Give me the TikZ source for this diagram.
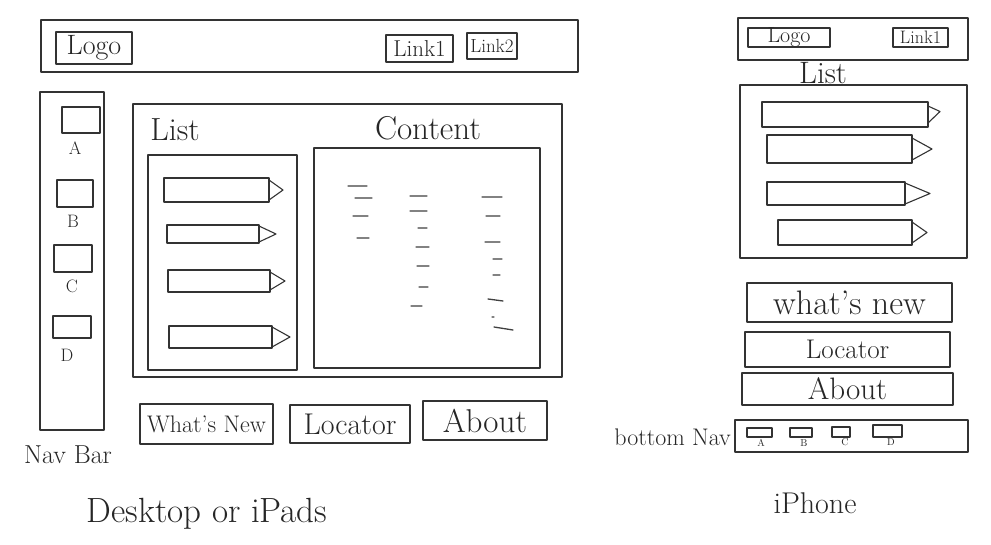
\documentclass[tikz,border=0pt]{standalone}
\usetikzlibrary{fit}

\tikzset{
  sketch/.style={draw=black!80, line width=1.1pt, line join=round},
  wbox/.style={sketch, inner sep=0pt, outer sep=0pt},
  hand/.style={font=\fontsize{#1}{#1}\selectfont, text=black!85, inner sep=0pt},
  scrib/.style={draw=black!75, line width=1.3pt, line cap=round},
}

\begin{document}
\begin{tikzpicture}[x=1pt, y=-1pt]
  \useasboundingbox[fill=white] (0,0) rectangle (991,544);
  % desktop / iPad page
  \node[wbox, fit={(41,20) (578,72)}] (dhead) {};
  \node[wbox, fit={(56,32) (132,64)}] (dlogo) {};
  \node[wbox, fit={(386,35) (453,62)}] (dlinka) {};
  \node[wbox, fit={(467,33) (517,59)}] (dlinkb) {};
  \node[hand=28] (dlogotxt) at (dlogo) {Logo};
  \node[hand=23] (dlinkatxt) at (dlinka) {Link1};
  \node[hand=19] (dlinkbtxt) at (dlinkb) {Link2};
  \node[wbox, fit={(40,92) (104,430)}] (dnav) {};
  \node[wbox, fit={(62,107) (100,133)}] (dnava) {};
  \node[wbox, fit={(57,180) (93,207)}] (dnavb) {};
  \node[wbox, fit={(54,245) (92,272)}] (dnavc) {};
  \node[wbox, fit={(53,316) (91,338)}] (dnavd) {};
  \node[hand=18] (dla) at (75,148) {A};
  \node[hand=18] (dlb) at (73,221) {B};
  \node[hand=18] (dlc) at (72,286) {C};
  \node[hand=18] (dld) at (67,355) {D};
  \node[hand=26] (dnavtxt) at (68,455) {Nav Bar};
  \node[wbox, fit={(133,104) (562,377)}] (dmain) {};
  \node[hand=32] (dlisttxt) at (175,130) {List};
  \node[hand=33] (dconttxt) at (428,128) {Content};
  \node[wbox, fit={(148,155) (297,370)}] (dlist) {};
  \node[wbox, fit={(314,148) (540,368)}] (dcont) {};
  % list items
  \node[wbox, fit={(164,178) (269,202)}] (ditema) {};
  \node[wbox, fit={(167,225) (259,243)}] (ditemb) {};
  \node[wbox, fit={(168,270) (270,292)}] (ditemc) {};
  \node[wbox, fit={(169,326) (272,348)}] (ditemd) {};
  \draw[sketch] ([yshift=-2pt]ditema.north east) -- ([xshift=14pt]ditema.east) -- ([yshift=2pt]ditema.south east);
  \draw[sketch] ([yshift=-1pt]ditemb.north east) -- ([xshift=17pt]ditemb.east) -- ([yshift=1pt]ditemb.south east);
  \draw[sketch] ([yshift=-2pt]ditemc.north east) -- ([xshift=15pt]ditemc.east) -- ([yshift=2pt]ditemc.south east);
  \draw[sketch] ([yshift=-1pt]ditemd.north east) -- ([xshift=18pt]ditemd.east) -- ([yshift=1pt]ditemd.south east);
  % content lines
  \draw[scrib] (348,186) -- (367,186) (355,198) -- (372,198) (353,216) -- (368,216) (357,238) -- (369,238)
    (410,196) -- (427,196) (410,211) -- (427,211) (418,228) -- (427,228) (416,247) -- (429,247)
    (417,266) -- (429,266) (419,287) -- (428,287) (411,306) -- (422,306)
    (482,197) -- (502,197) (486,216) -- (500,216) (485,242) -- (500,242) (493,259) -- (502,259)
    (493,275) -- (500,275) (488,299) -- (503,301) (492,317) -- (494,317) (494,327) -- (513,330);
  \node[wbox, fit={(140,404) (273,444)}] (dnew) {};
  \node[wbox, fit={(290,405) (410,443)}] (dloc) {};
  \node[wbox, fit={(423,401) (547,440)}] (dabout) {};
  \node[hand=24] (dnewtxt) at (dnew) {What's New};
  \node[hand=30] (dloctxt) at (dloc) {Locator};
  \node[hand=33] (dabouttxt) at (dabout) {About};
  \node[hand=35] (dtitle) at (207,514) {Desktop or iPads};
  % iPhone page
  \node[wbox, fit={(738,18) (968,60)}] (phead) {};
  \node[wbox, fit={(748,28) (830,47)}] (plogo) {};
  \node[wbox, fit={(893,28) (948,47)}] (plink) {};
  \node[hand=22] (plogotxt) at (plogo) {Logo};
  \node[hand=18] (plinktxt) at (plink) {Link1};
  \node[hand=31] (plisttxt) at (823,73) {List};
  \node[wbox, fit={(740,85) (967,258)}] (plist) {};
  \node[wbox, fit={(762,102) (928,127)}] (pitema) {};
  \node[wbox, fit={(767,135) (912,163)}] (pitemb) {};
  \node[wbox, fit={(767,182) (905,205)}] (pitemc) {};
  \node[wbox, fit={(778,220) (912,245)}] (pitemd) {};
  \draw[sketch] ([yshift=-4pt]pitema.north east) -- ([xshift=12pt,yshift=3pt]pitema.east) -- ([yshift=4pt]pitema.south east);
  \draw[sketch] ([yshift=-3pt]pitemb.north east) -- ([xshift=20pt]pitemb.east) -- ([yshift=3pt]pitemb.south east);
  \draw[sketch] ([yshift=-1pt]pitemc.north east) -- ([xshift=25pt]pitemc.east) -- ([yshift=1pt]pitemc.south east);
  \draw[sketch] ([yshift=-2pt]pitemd.north east) -- ([xshift=15pt]pitemd.east) -- ([yshift=2pt]pitemd.south east);
  \node[wbox, fit={(747,283) (952,322)}] (pnew) {};
  \node[wbox, fit={(745,332) (950,367)}] (ploc) {};
  \node[wbox, fit={(742,373) (953,405)}] (pabout) {};
  \node[hand=34] (pnewtxt) at (pnew) {what's new};
  \node[hand=27] (ploctxt) at (ploc) {Locator};
  \node[hand=31] (pabouttxt) at (pabout) {About};
  \node[wbox, fit={(735,420) (968,452)}] (pbot) {};
  \node[hand=24, anchor=east] (pbottxt) at (731,437) {bottom Nav};
  \node[wbox, fit={(747,428) (772,437)}] (pnava) {};
  \node[wbox, fit={(790,428) (812,437)}] (pnavb) {};
  \node[wbox, fit={(832,427) (850,437)}] (pnavc) {};
  \node[wbox, fit={(873,425) (902,437)}] (pnavd) {};
  \node[hand=10] (pla) at (761,443) {A};
  \node[hand=10] (plb) at (804,443) {B};
  \node[hand=10] (plc) at (845,442) {C};
  \node[hand=10] (pld) at (891,442) {D};
  \node[hand=30] (ptitle) at (815,503) {iPhone};
\end{tikzpicture}
\end{document}
